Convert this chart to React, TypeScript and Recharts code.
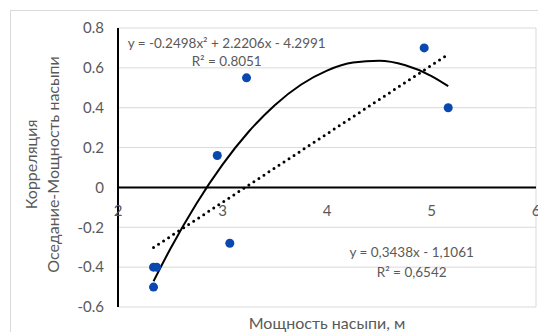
import React from 'react';
import {
  ComposedChart,
  Scatter,
  Line,
  XAxis,
  YAxis,
  CartesianGrid,
  ReferenceLine,
  ReferenceDot,
} from 'recharts';

// ---- data ----
const thicknessM = [2.34, 2.37, 2.34, 2.95, 3.07, 3.23, 4.93, 5.16];
const correlation = [-0.4, -0.4, -0.5, 0.16, -0.28, 0.55, 0.7, 0.4];

const polyTrendX = [2.34, 2.5, 2.75, 3, 3.25, 3.5, 3.75, 4, 4.25, 4.5, 4.75, 5, 5.16];
const polyTrendY = [-0.4707, -0.3089, -0.0815, 0.1145, 0.2794, 0.4129, 0.5154, 0.5865, 0.6265, 0.6351, 0.6127, 0.5589, 0.5081];

const linTrendX = [2.34, 5.16];
const linTrendY = [-0.3016, 0.6679];

const xTicks = [2, 3, 4, 5, 6];
const yTicks = [-0.6, -0.4, -0.2, 0, 0.2, 0.4, 0.6, 0.8];

const polyEquation = ['y = -0.2498x² + 2.2206x - 4.2991', 'R² = 0.8051'];
const linEquation = ['y = 0,3438x - 1,1061', 'R² = 0,6542'];

const yTitle = ['Корреляция', 'Оседание-Мощность насыпи'];
const xTitle = 'Мощность насыпи, м';

// ---- built tables ----
const points = thicknessM.map((x, i) => ({ x, y: correlation[i] }));
const polyTrend = polyTrendX.map((x, i) => ({ x, y: polyTrendY[i] }));
const linTrend = linTrendX.map((x, i) => ({ x, y: linTrendY[i] }));

const FONT = 'Lato, "Open Sans", sans-serif';
const TEXT = '#595959';
const GRID = '#d9d9d9';
const BLUE = '#0a48b0';

const YTitle = (props: any) => {
  const vb = props.viewBox || {};
  const cy = vb.y + vb.height / 2 - 3;
  const xs = [22, 44];
  return (
    <g>
      {yTitle.map((t, i) => (
        <text
          key={i}
          x={xs[i]}
          y={cy}
          transform={`rotate(-90 ${xs[i]} ${cy})`}
          textAnchor="middle"
          dominantBaseline="central"
          fontFamily={FONT}
          fontSize={16}
          fill={TEXT}
        >
          {t}
        </text>
      ))}
    </g>
  );
};

export default function App() {
  const labelStyle = { fill: TEXT, fontSize: 13.5, fontFamily: FONT };
  return (
    <div style={{ position: 'relative', width: 538, height: 324, overflow: 'hidden' }}>
      <div
        style={{
          position: 'absolute',
          left: 2,
          top: 2,
          width: 700,
          height: 500,
          border: `1px solid ${GRID}`,
          boxSizing: 'border-box',
        }}
      />
      <div style={{ position: 'absolute', left: 0, top: 0 }}>
        <ComposedChart width={538} height={324} margin={{ top: 20, right: 10, left: 0, bottom: 0 }}>
          <CartesianGrid stroke={GRID} strokeWidth={1} horizontal vertical />
          <XAxis
            dataKey="x"
            type="number"
            domain={[2, 6]}
            ticks={xTicks}
            axisLine={false}
            tickLine={false}
            tick={false}
            height={25}
            label={{ value: xTitle, position: 'insideBottom', offset: 3, fill: TEXT, fontSize: 16, fontFamily: FONT }}
          />
          <YAxis
            dataKey="y"
            type="number"
            domain={[-0.6, 0.8]}
            ticks={yTicks}
            width={110}
            axisLine={{ stroke: '#000', strokeWidth: 2 }}
            tickLine={false}
            tickMargin={8}
            tick={{ fill: TEXT, fontSize: 15, fontFamily: FONT }}
            tickFormatter={(v: number) => (v === 0 ? '0' : v.toFixed(1))}
            label={<YTitle />}
          />
          <ReferenceLine y={0} stroke="#000" strokeWidth={2} />
          {xTicks.map((t) => (
            <ReferenceDot
              key={t}
              x={t}
              y={0}
              r={0}
              fill="none"
              stroke="none"
              label={{ value: String(t), position: 'bottom', offset: 18, fill: TEXT, fontSize: 15, fontFamily: FONT }}
            />
          ))}
          <Line
            data={polyTrend}
            dataKey="y"
            type="monotone"
            stroke="#000"
            strokeWidth={2}
            dot={false}
            activeDot={false}
            isAnimationActive={false}
          />
          <Line
            data={linTrend}
            dataKey="y"
            type="linear"
            stroke="#000"
            strokeWidth={3}
            strokeDasharray="0 6"
            strokeLinecap="round"
            dot={false}
            activeDot={false}
            isAnimationActive={false}
          />
          <Scatter data={points} dataKey="y" fill={BLUE} isAnimationActive={false} />
          <ReferenceDot x={3.04} y={0.725} r={0} fill="none" stroke="none"
            label={{ value: polyEquation[0], position: 'center', ...labelStyle }} />
          <ReferenceDot x={3.04} y={0.635} r={0} fill="none" stroke="none"
            label={{ value: polyEquation[1], position: 'center', ...labelStyle }} />
          <ReferenceDot x={4.81} y={-0.323} r={0} fill="none" stroke="none"
            label={{ value: linEquation[0], position: 'center', ...labelStyle }} />
          <ReferenceDot x={4.81} y={-0.424} r={0} fill="none" stroke="none"
            label={{ value: linEquation[1], position: 'center', ...labelStyle }} />
        </ComposedChart>
      </div>
    </div>
  );
}
